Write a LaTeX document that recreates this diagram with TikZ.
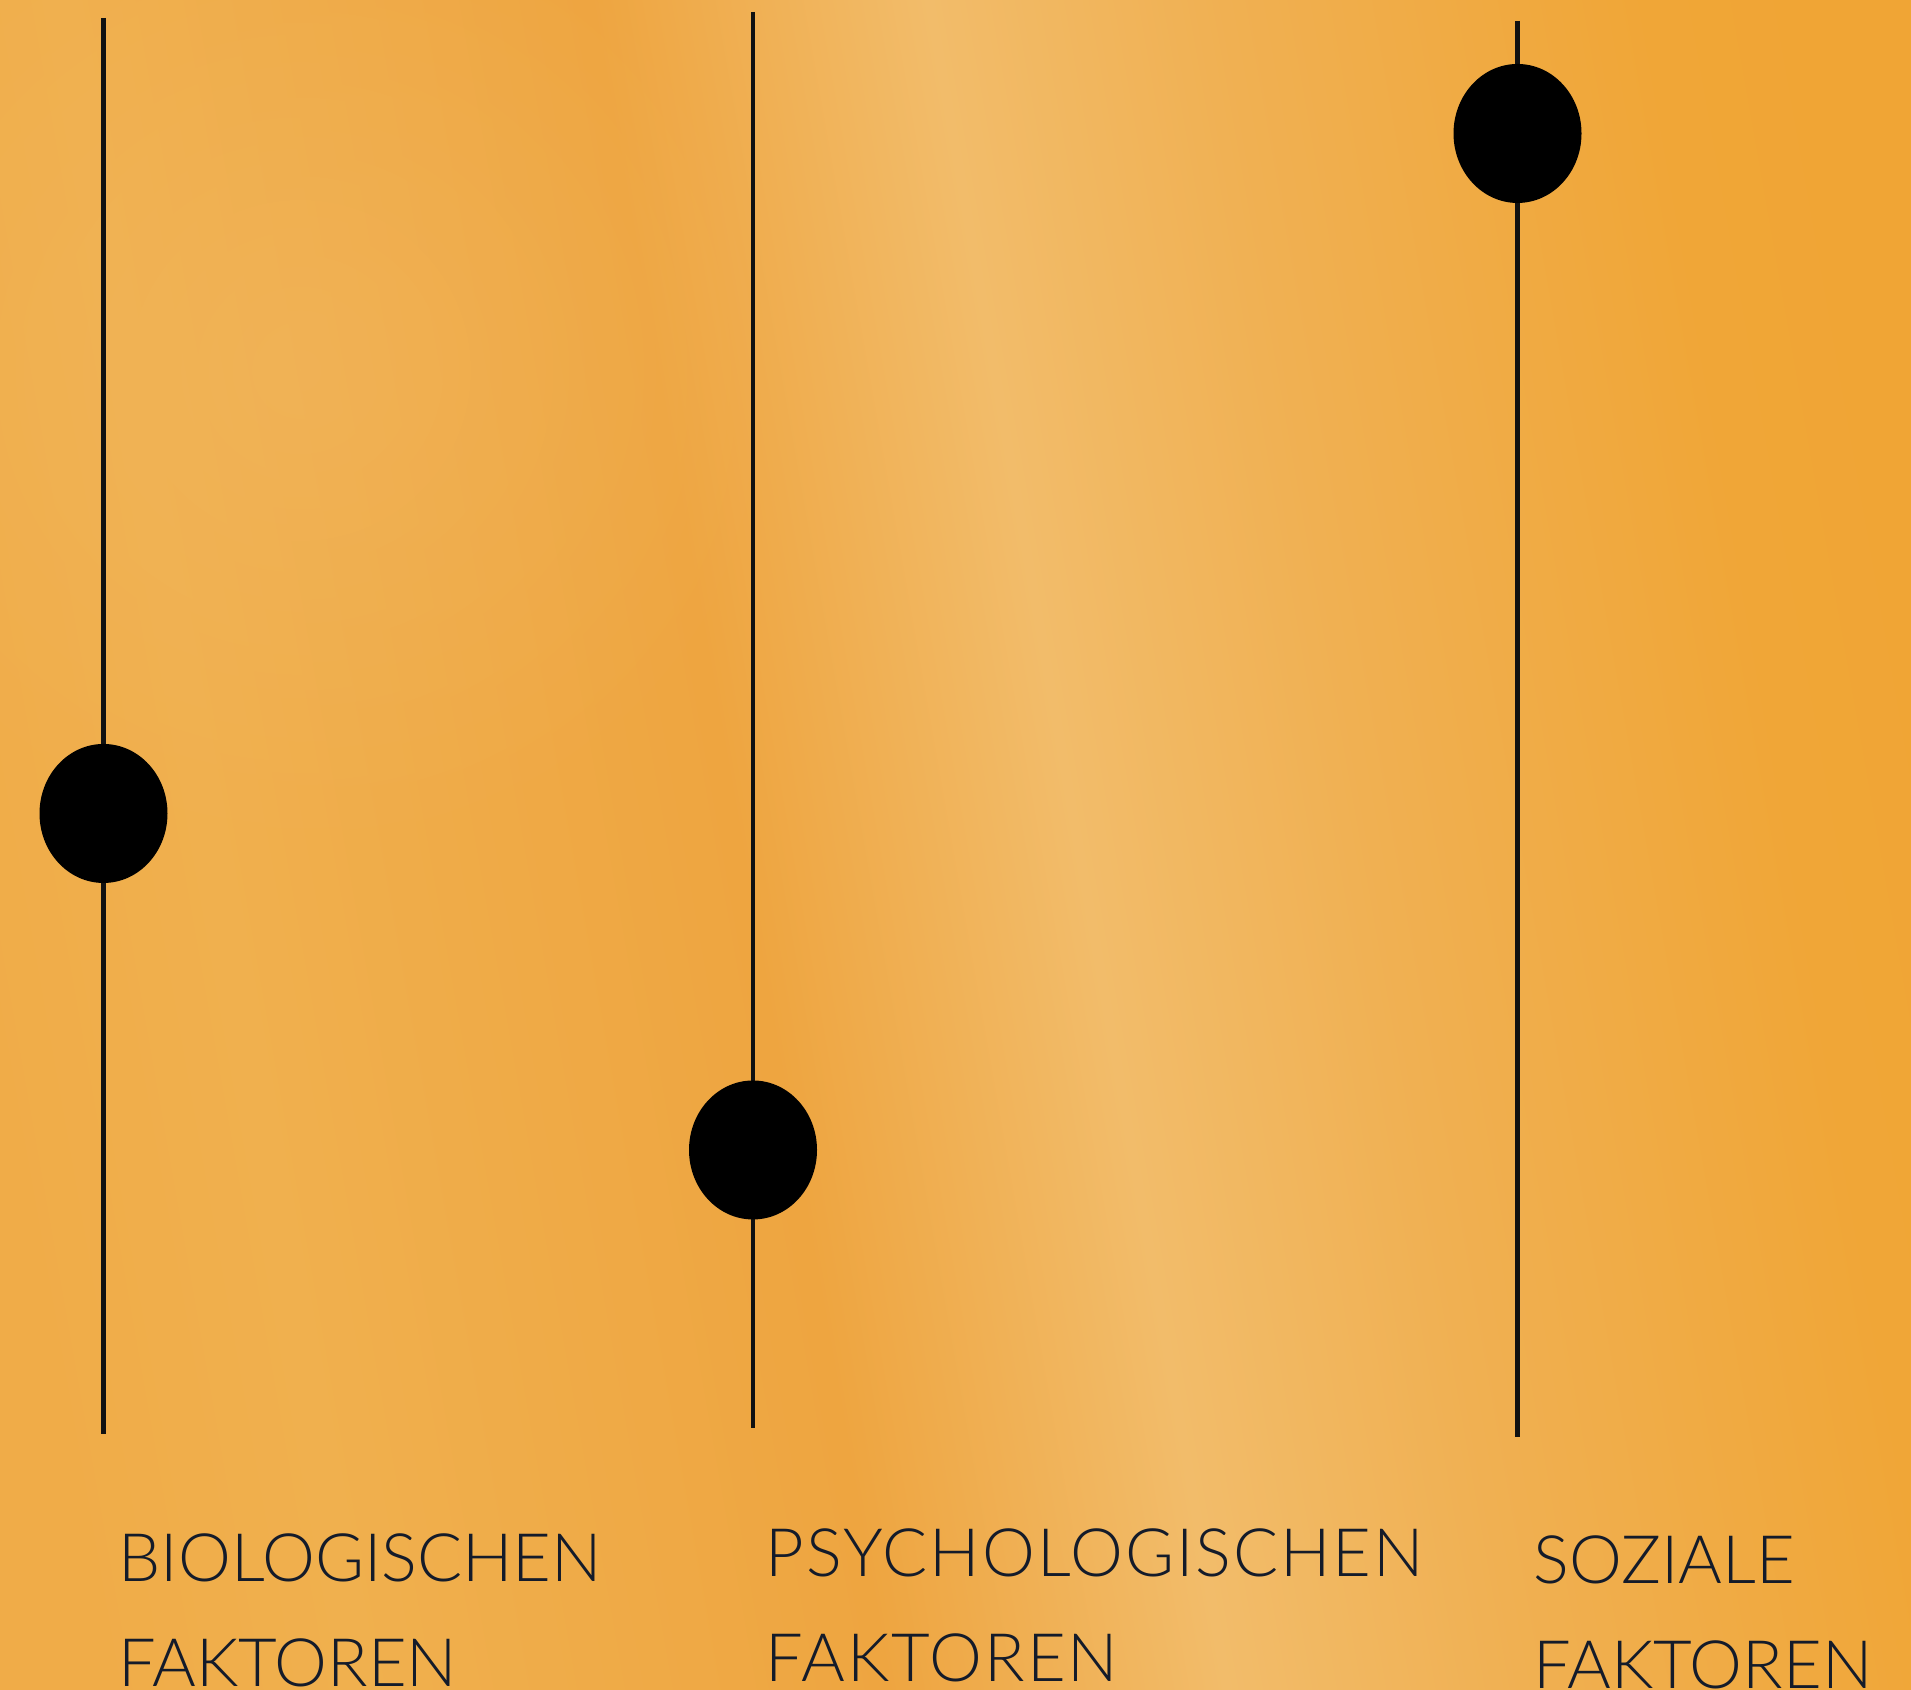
\documentclass[tikz,border=0pt]{standalone}
\usepackage{fontspec}
\setmainfont{Lato Light}
\usepackage{xcolor}
\usepackage{tikz}
\usetikzlibrary{shapes.geometric, positioning, fadings}
\definecolor{bgA}{HTML}{F0AC48}
\definecolor{bgB}{HTML}{F0B04E}
\definecolor{bgC}{HTML}{EEA540}
\definecolor{bgD}{HTML}{F2BC6A}
\definecolor{bgE}{HTML}{F0B052}
\definecolor{bgF}{HTML}{F0A637}
\definecolor{bgG}{HTML}{F0A535}
\definecolor{bgglow}{HTML}{F2B862}
\definecolor{railink}{HTML}{111111}
\definecolor{labink}{HTML}{141B2A}
\pgfdeclarehorizontalshading{bgband}{100bp}{color(0bp)=(bgA); color(23.5bp)=(bgA); color(30.4bp)=(bgB); color(44.3bp)=(bgC); color(53.2bp)=(bgD); color(61bp)=(bgE); color(72.1bp)=(bgF); color(76.6bp)=(bgG); color(100bp)=(bgG)}
\tikzfading[name=glowfade, inner color=transparent!0, outer color=transparent!100]
\tikzset{
  rail/.style={line width=1.4pt, draw=railink},
  knob/.style={ellipse, fill=black, minimum width=1.28cm, minimum height=1.39cm, inner sep=0pt},
  lab/.style={anchor=north west, align=left, inner sep=0pt, text=labink, font=\fontsize{19pt}{29.9pt}\selectfont},
}
\begin{document}
\begin{tikzpicture}
  \useasboundingbox (0,0) rectangle (19.11,16.90);
  \shade[shading=bgband, shading angle=10] (0,0) rectangle (19.11,16.90);
  \fill[bgglow, path fading=glowfade, opacity=0.5] (3.0,13.2) circle (5);
  \coordinate (bioTop) at (1.035,16.72);
  \coordinate (bioBot) at (1.035,2.56);
  \coordinate (psyTop) at (7.53,16.78);
  \coordinate (psyBot) at (7.53,2.62);
  \coordinate (socTop) at (15.175,16.69);
  \coordinate (socBot) at (15.175,2.53);
  \draw[rail] (bioTop) -- (bioBot);
  \draw[rail] (psyTop) -- (psyBot);
  \draw[rail] (socTop) -- (socBot);
  \node[knob] (bioKnob) at (1.035,8.765) {};
  \node[knob] (psyKnob) at (7.53,5.40) {};
  \node[knob] (socKnob) at (15.175,15.565) {};
  \node[lab] (bioLab) at (1.18,1.57) {BIOLOGISCHEN\\FAKTOREN};
  \node[lab, font=\fontsize{19pt}{29.9pt}\selectfont\addfontfeature{LetterSpace=3}] (psyLab) at (7.65,1.62) {PSYCHOLOGISCHEN\\FAKTOREN};
  \node[lab] (socLab) at (15.33,1.55) {SOZIALE\\FAKTOREN};
\end{tikzpicture}
\end{document}
